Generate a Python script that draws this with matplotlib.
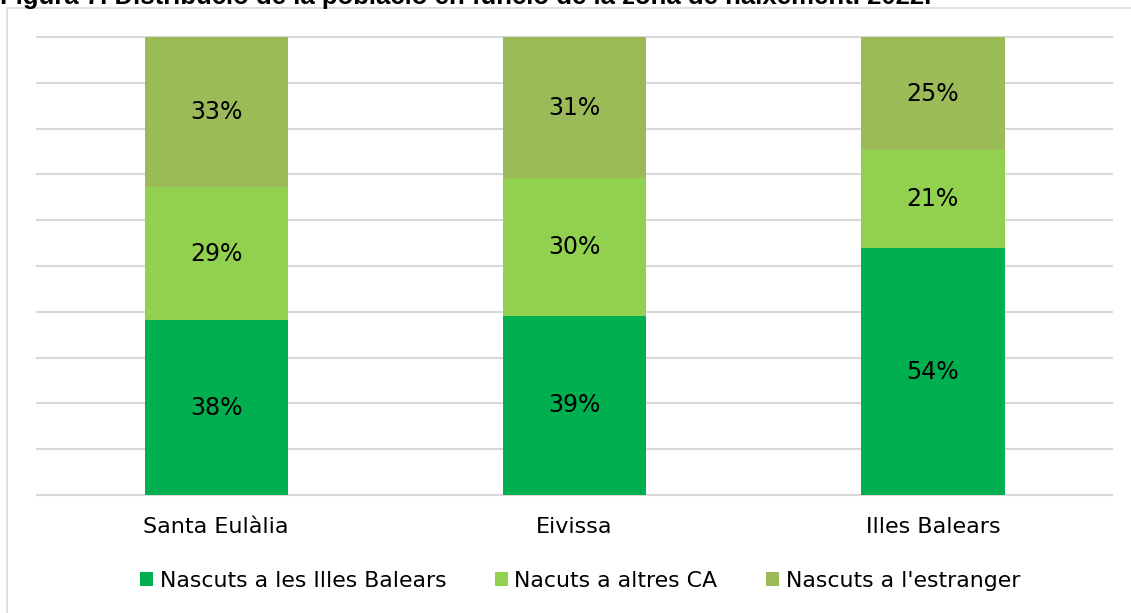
import matplotlib.pyplot as plt
from matplotlib.patches import Rectangle
import numpy as np

plt.rcParams['font.family'] = ['DejaVu Sans']

# dades
llocs = ['Santa Eulàlia', 'Eivissa', 'Illes Balears']
illes = [38.2, 39.1, 53.9]
altres_ca = [29.0, 30.1, 21.4]
estranger = [32.8, 30.8, 24.7]
etiquetes = ['Nascuts a les Illes Balears', 'Nacuts a altres CA', "Nascuts a l'estranger"]
colors = ['#00B050', '#92D050', '#9BBB59']

W, H = 1131, 613
fig = plt.figure(figsize=(W / 100, H / 100), dpi=100)

# marc del gràfic
fig.patches.append(Rectangle((7 / W, -0.1), 1.2, 1 - 8 / H + 0.1, transform=fig.transFigure,
                             fill=False, edgecolor='#D9D9D9', lw=1.2))

# títol (tallat a dalt com a l'original)
fig.text(0.0, 1 - 4 / H, 'Figura 7. Distribució de la població en funció de la zona de naixement. 2022.',
         fontsize=18.5, fontweight='bold', family=['Liberation Sans', 'DejaVu Sans'],
         color='black', ha='left', va='baseline')

ax = fig.add_axes([37 / W, 1 - 495 / H, (1112 - 37) / W, (495 - 37) / H])

x = np.arange(len(llocs))
series = [illes, altres_ca, estranger]
base = np.zeros(len(llocs))
for vals, col, lab in zip(series, colors, etiquetes):
    vals = np.array(vals)
    ax.bar(x, vals, 0.4, bottom=base, color=col, label=lab, zorder=3)
    for xi, b, v in zip(x, base, vals):
        ax.text(xi, b + v / 2, f'{v:.0f}%', ha='center', va='center', fontsize=17, color='black', zorder=4)
    base = base + vals

ax.set_xlim(-0.5, 2.5)
ax.set_ylim(0, 100)
ax.set_yticks(np.arange(0, 101, 10))
ax.set_yticklabels([])
ax.grid(axis='y', color='#D9D9D9', lw=1.5, zorder=0)
for gl in ax.get_ygridlines():
    gl.set_clip_on(False)
ax.set_xticks(x)
ax.set_xticklabels(llocs, fontsize=16)
ax.tick_params(axis='both', length=0)
ax.tick_params(axis='x', pad=16)
for s in ['top', 'right', 'left']:
    ax.spines[s].set_visible(False)
ax.spines['bottom'].set_color('#D9D9D9')
ax.spines['bottom'].set_linewidth(1.5)

fig.legend(loc='center', bbox_to_anchor=(580 / W, 1 - 581 / H), ncol=3, frameon=False,
           fontsize=15.8, handlelength=0.6, handleheight=0.6, handletextpad=0.3, columnspacing=2.2)

plt.savefig('out.png', dpi=100)
